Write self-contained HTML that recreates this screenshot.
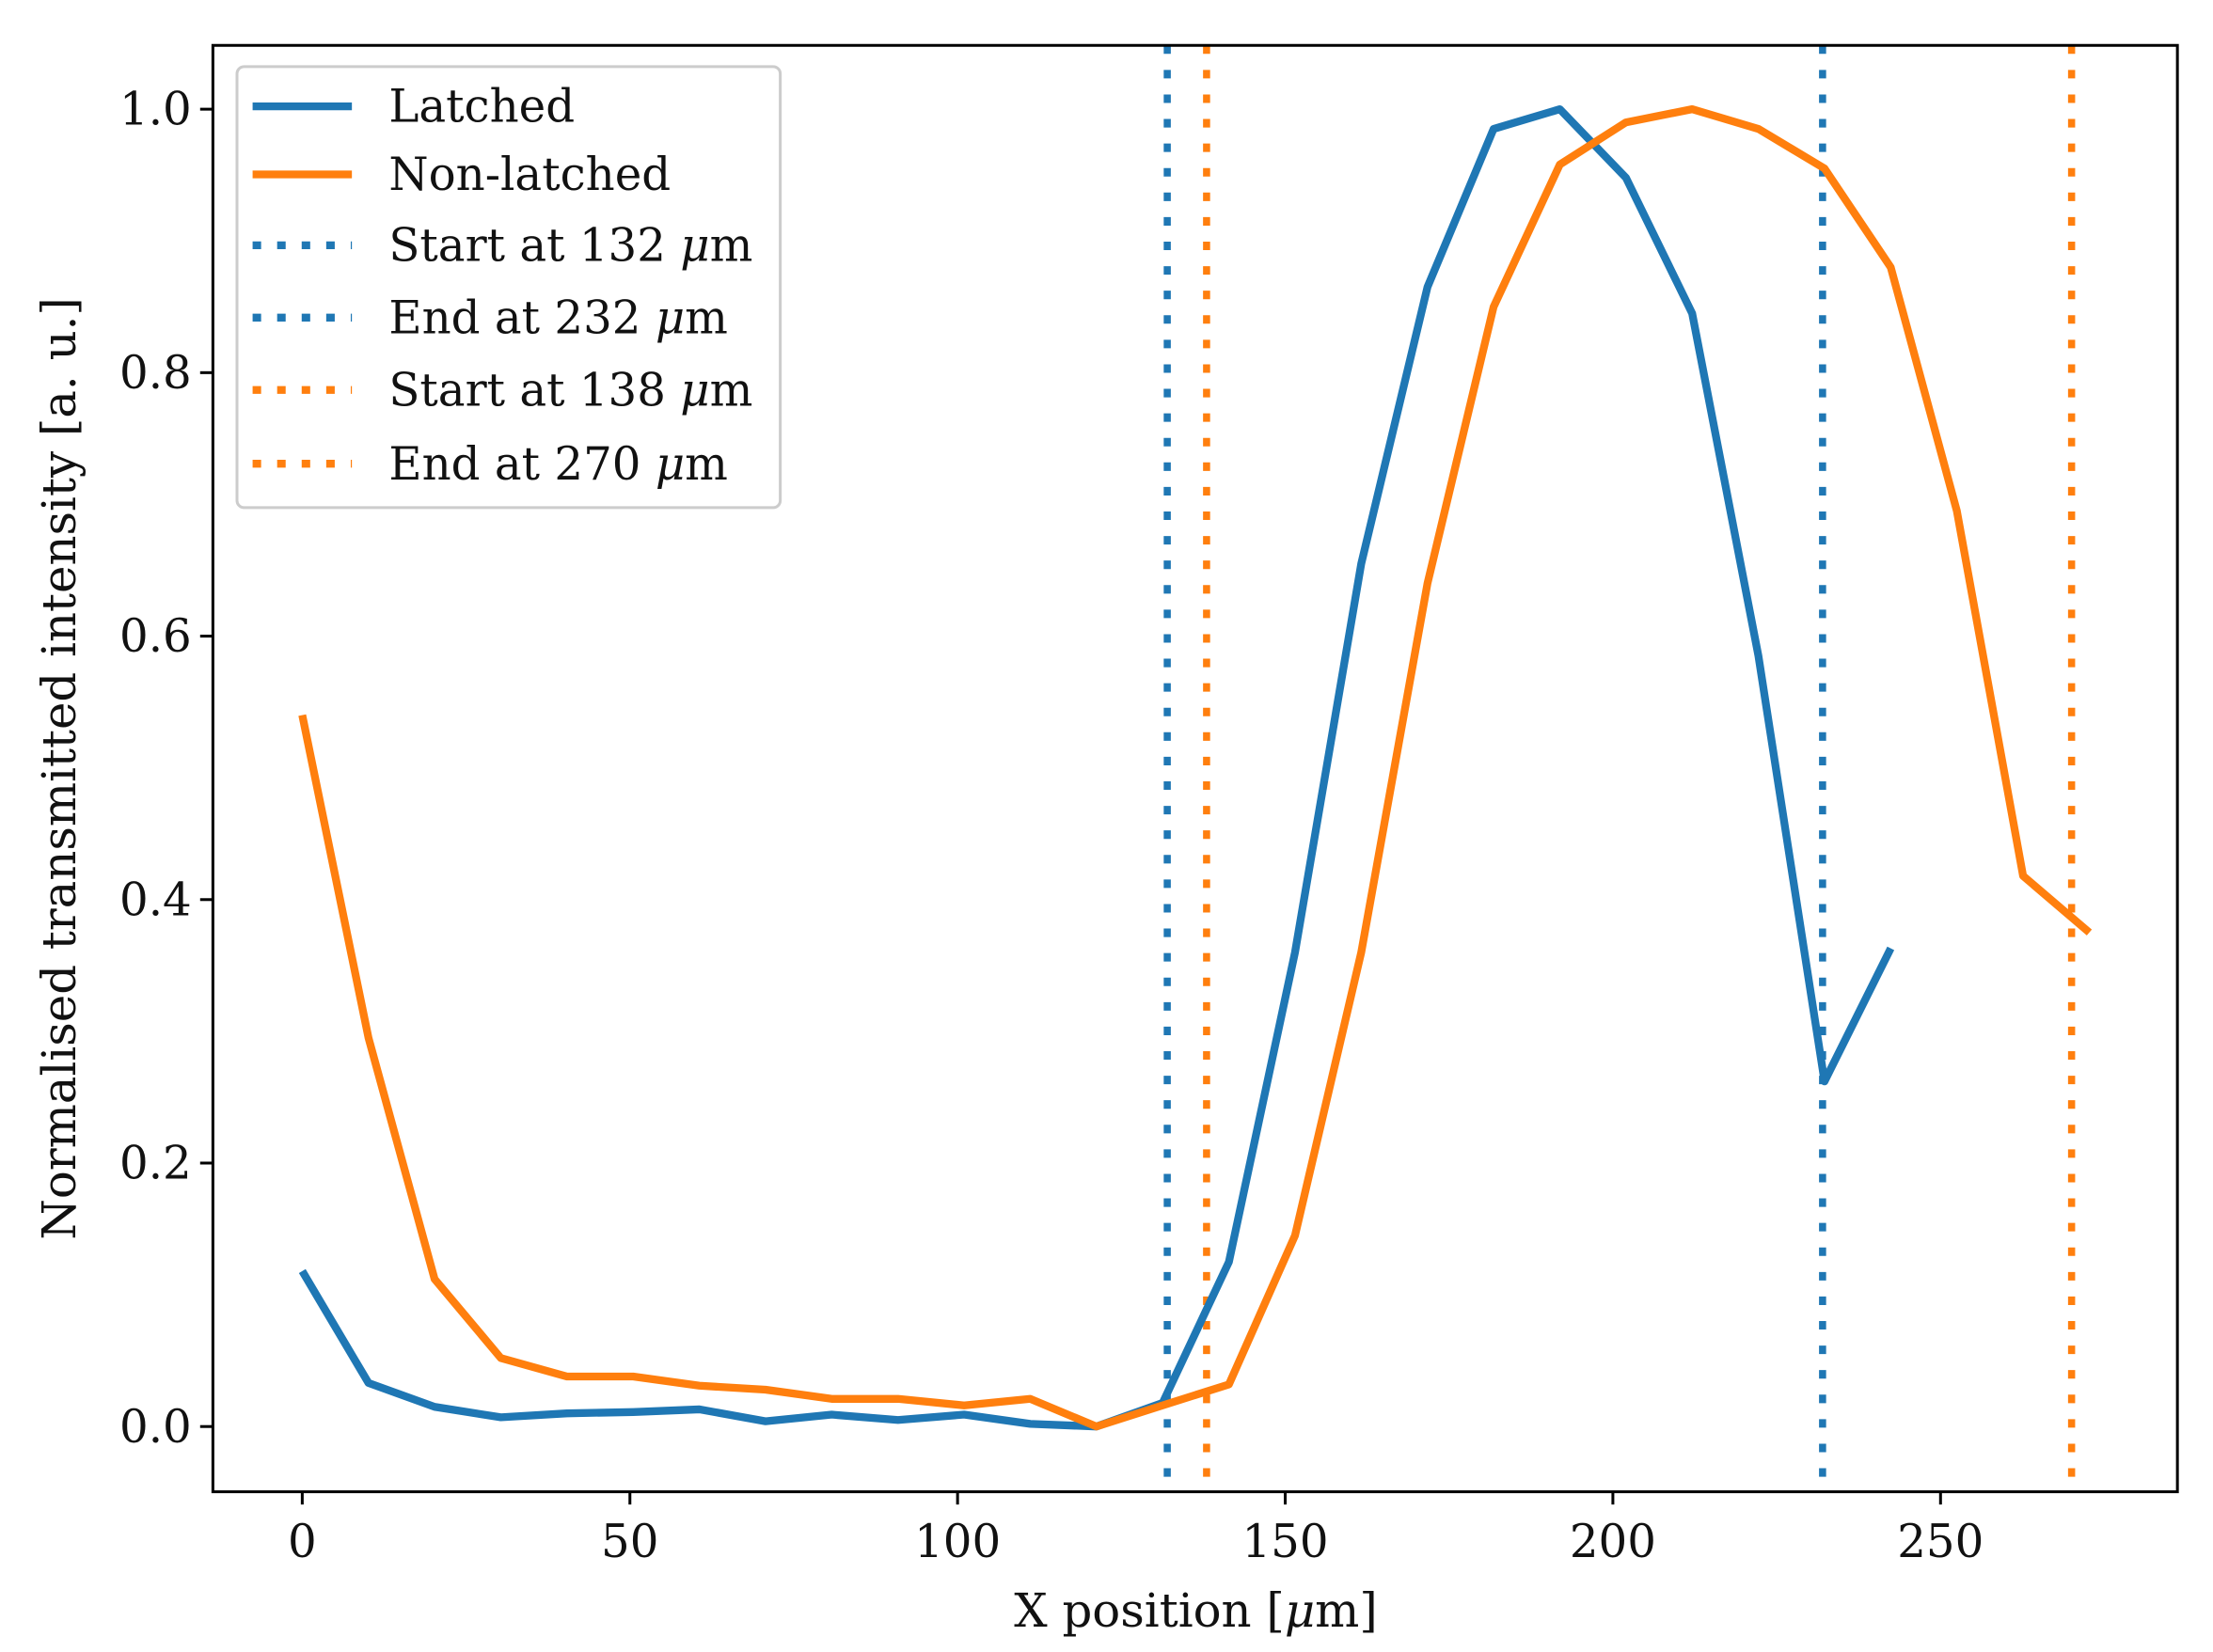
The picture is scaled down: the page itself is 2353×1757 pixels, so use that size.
<!DOCTYPE html>
<html><head><meta charset="utf-8"><style>html,body{margin:0;padding:0;background:#fff}svg{display:block}text{font-family:"DejaVu Serif","Liberation Serif",serif;fill:#111}</style></head>
<body>
<svg id="chart" width="2353" height="1757" viewBox="0 0 1560 1165" xmlns="http://www.w3.org/2000/svg">
<rect x="0" y="0" width="1560" height="1165" fill="#fff"/>
<g id="plot"></g>
</svg>
<script>
const xStep = 10.1;
const latched = [0.118,0.033,0.015,0.007,0.010,0.011,0.013,0.004,0.009,0.005,0.009,0.002,0.000,0.018,0.125,0.36,0.655,0.865,0.985,1.0,0.948,0.845,0.585,0.262,0.363];
const nonLatched = [0.54,0.295,0.112,0.052,0.038,0.038,0.031,0.028,0.021,0.021,0.016,0.021,0.000,0.016,0.032,0.145,0.36,0.64,0.85,0.958,0.99,1.0,0.985,0.955,0.88,0.695,0.418,0.375];
const vLines = [132,232,138,270];
const vColors = ['#1f77b4','#1f77b4','#ff7f0e','#ff7f0e'];
const xTicks = [0,50,100,150,200,250];
const yTicks = [0,0.2,0.4,0.6,0.8,1.0];
const legendLabels = ['Latched','Non-latched','Start at 132 μm','End at 232 μm','Start at 138 μm','End at 270 μm'];

const L=150,R=1535,T=32,B=1052;
const xs = v => 213 + (v-0)*(1368-213)/250;
const ys = v => 1006 - v*(1006-77);
const NS='http://www.w3.org/2000/svg';
const g=document.getElementById('plot');
function mk(tag,attrs,parent){const e=document.createElementNS(NS,tag);for(const k in attrs)e.setAttribute(k,attrs[k]);(parent||g).appendChild(e);return e;}

vLines.forEach((v,i)=>{
  const e=mk('line',{x1:xs(v),x2:xs(v),y1:T,y2:B,stroke:vColors[i],'stroke-width':5,'stroke-dasharray':'6 11.3'});
  
  
});
function series(vals,color,name){
  const pts=vals.map((v,i)=>xs(i*xStep).toFixed(1)+','+ys(v).toFixed(1)).join(' ');
  const e=mk('polyline',{points:pts,fill:'none',stroke:color,'stroke-width':5.5,'stroke-linejoin':'round'});
  
  
}
series(latched,'#1f77b4','latched-line');
series(nonLatched,'#ff7f0e','non-latched-line');

const fr=mk('rect',{x:L,y:T,width:R-L,height:B-T,fill:'none',stroke:'#000','stroke-width':2});



xTicks.forEach(t=>{
  mk('line',{x1:xs(t),x2:xs(t),y1:B,y2:B+9,stroke:'#000','stroke-width':2});
  const e=mk('text',{x:xs(t),y:B+46,'text-anchor':'middle','font-size':32});
  e.textContent=t;
  
  
});
yTicks.forEach(t=>{
  mk('line',{x1:L-9,x2:L,y1:ys(t),y2:ys(t),stroke:'#000','stroke-width':2});
  const e=mk('text',{x:L-15,y:ys(t)+11,'text-anchor':'end','font-size':32});
  e.textContent=t.toFixed(1);
  
  
});
const xl=mk('text',{x:843,y:1147,'text-anchor':'middle','font-size':33});
xl.innerHTML='X position [<tspan font-style="italic">μ</tspan>m]';


const yl=mk('text',{x:0,y:0,'text-anchor':'middle','font-size':33,transform:'translate(53,542) rotate(-90)'});
yl.textContent='Normalised transmitted intensity [a. u.]';



const lg=mk('g',{});


mk('rect',{x:167,y:47,width:383,height:311,rx:5,fill:'#fff','fill-opacity':0.8,stroke:'#ccc','stroke-width':2},lg);
const ly=[75,123,173,224,275,327];
const lc=['#1f77b4','#ff7f0e','#1f77b4','#1f77b4','#ff7f0e','#ff7f0e'];
legendLabels.forEach((lab,i)=>{
  const s=mk('line',{x1:178,x2:248,y1:ly[i],y2:ly[i],stroke:lc[i],'stroke-width':5.5},lg);
  if(i>1)s.setAttribute('stroke-dasharray','6 11.3');
  const t=mk('text',{x:274,y:ly[i]+11,'font-size':32},lg);
  if(lab.indexOf('μm')>=0){t.innerHTML=lab.replace('μm','<tspan font-style="italic">μ</tspan>m');}else t.textContent=lab;
  
  
});
</script>
</body></html>
